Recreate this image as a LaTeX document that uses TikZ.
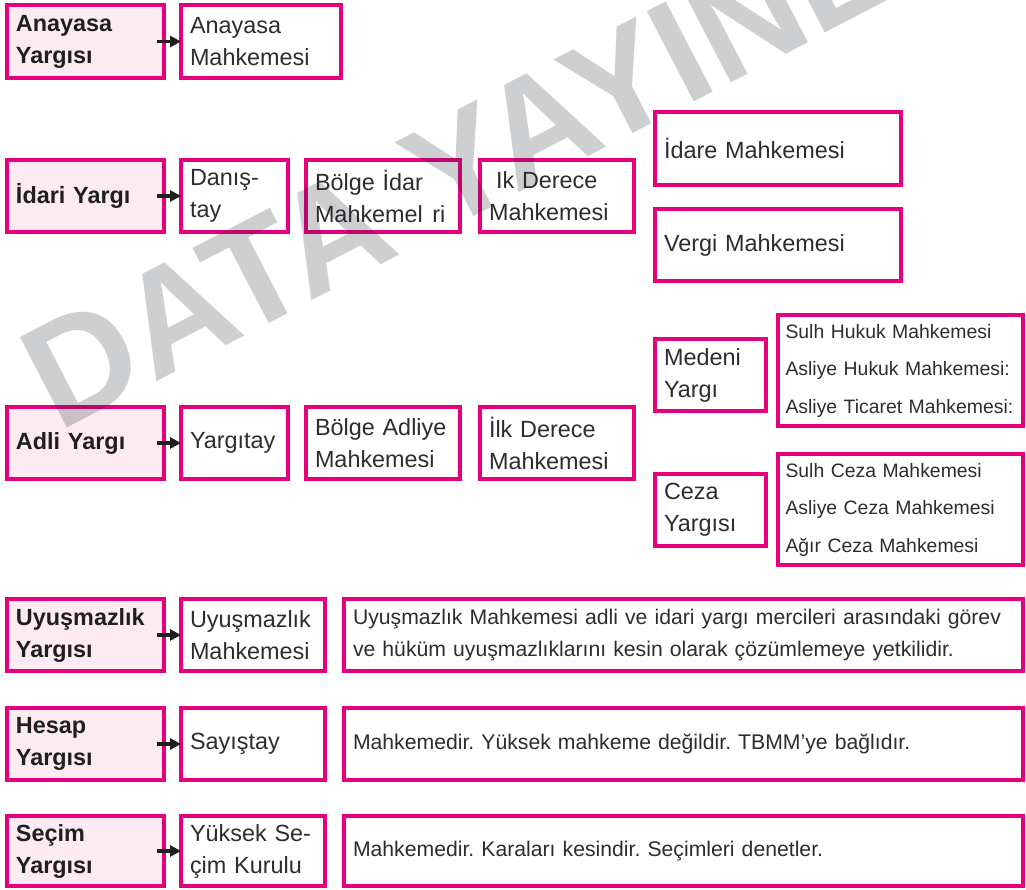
\documentclass[tikz,border=0pt]{standalone}
\usepackage{fontspec}
\setmainfont{Liberation Sans}
\usetikzlibrary{arrows.meta}
\definecolor{mag}{RGB}{230,0,126}
\definecolor{pinkfill}{RGB}{252,236,242}
\definecolor{txt}{RGB}{45,45,45}
\definecolor{wm}{RGB}{30,35,45}
\newcommand\mainf{\fontsize{11.7}{16}\selectfont}
\newcommand\smallf{\fontsize{9.7}{18.75}\selectfont}
\newcommand\descf{\fontsize{10.6}{16}\selectfont}
\begin{document}
\frenchspacing
\begin{tikzpicture}[x=0.5pt,y=-0.5pt,
  box/.style={draw=mag, line width=2pt, fill=white, rectangle, anchor=north west,
    outer sep=0pt, inner xsep=4.5pt, inner ysep=0pt, align=left, text=txt, font=\mainf},
  hd/.style={fill=pinkfill, text=black!88, font=\mainf\bfseries},
  grp/.style={font=\smallf, inner xsep=3.75pt},
  desc/.style={font=\descf},
  arr/.style={-{Triangle[length=5.5pt,width=5.5pt]}, line width=1.6pt, black!88}]
\useasboundingbox (0,0) rectangle (1026,889);
% Row 1
\node[box,hd, minimum width=78.5pt, minimum height=36.5pt, text width=69.5pt] (ay) at (7,5) {Anayasa\\Yargısı};
\node[box, minimum width=80pt, minimum height=36.5pt, text width=71pt] (am) at (181,5) {Anayasa\\Mahkemesi};
% Row 2
\node[box,hd, minimum width=78.5pt, minimum height=36pt, text width=69.5pt] (iy) at (7,160) {İdari Yargı};
\node[box, minimum width=53.5pt, minimum height=36pt, text width=44.5pt] (dn) at (181,160) {Danış-\\tay};
\node[box, minimum width=77pt, minimum height=36pt, text width=68pt] (bi) at (306,160) {Bölge İdar\\Mahkemel\hspace{0.4em}ri};
\node[box, minimum width=77pt, minimum height=36pt, text width=68pt] (id) at (480,160) {\hspace{0.3em}Ik Derece\\Mahkemesi};
\node[box, minimum width=123pt, minimum height=36.5pt, text width=114pt] (im) at (655,112) {İdare Mahkemesi};
\node[box, minimum width=123pt, minimum height=36pt, text width=114pt] (vm) at (655,209) {Vergi Mahkemesi};
% Row 3
\node[box,hd, minimum width=78.5pt, minimum height=36pt, text width=69.5pt] (ad) at (7,407) {Adli Yargı};
\node[box, minimum width=53.5pt, minimum height=36pt, text width=44.5pt] (yt) at (181,407) {Yargıtay};
\node[box, minimum width=77pt, minimum height=36pt, text width=68pt] (ba) at (306,407) {Bölge Adliye\\Mahkemesi};
\node[box, minimum width=77pt, minimum height=36pt, text width=68pt] (ilk) at (480,407) {İlk Derece\\Mahkemesi};
\node[box, minimum width=55.5pt, minimum height=36pt, text width=46.5pt] (my) at (655,339) {Medeni\\Yargı};
\node[box,grp, minimum width=122.5pt, minimum height=55.5pt, text width=115pt] (hg) at (778,315) {Sulh Hukuk Mahkemesi\\Asliye Hukuk Mahkemesi:\\Asliye Ticaret Mahkemesi:};
\node[box, minimum width=55.5pt, minimum height=36pt, text width=46.5pt] (cy) at (655,474) {Ceza\\Yargısı};
\node[box,grp, minimum width=122.5pt, minimum height=55.5pt, text width=115pt] (cg) at (778,454) {Sulh Ceza Mahkemesi\\Asliye Ceza Mahkemesi\\Ağır Ceza Mahkemesi};
% Row 4
\node[box,hd, minimum width=78.5pt, minimum height=36pt, text width=69.5pt] (uy) at (7,599) {Uyuşmazlık\\Yargısı};
\node[box, minimum width=72pt, minimum height=36pt, text width=63pt] (um) at (181,599) {Uyuşmazlık\\Mahkemesi};
\node[box,desc, minimum width=339.5pt, minimum height=36pt, text width=330.5pt] (ud) at (344,599) {\makebox[330.5pt][s]{Uyuşmazlık Mahkemesi adli ve idari yargı mercileri arasındaki görev}\\ve hüküm uyuşmazlıklarını kesin olarak çözümlemeye yetkilidir.};
% Row 5
\node[box,hd, minimum width=78.5pt, minimum height=36pt, text width=69.5pt] (hy) at (7,708) {Hesap\\Yargısı};
\node[box, minimum width=72pt, minimum height=36pt, text width=63pt] (sy) at (181,708) {Sayıştay};
\node[box,desc, minimum width=339.5pt, minimum height=36pt, text width=330.5pt] (hd) at (344,708) {Mahkemedir. Yüksek mahkeme değildir. TBMM’ye bağlıdır.};
% Row 6
\node[box,hd, minimum width=78.5pt, minimum height=35pt, text width=69.5pt] (sc) at (7,816) {Seçim\\Yargısı};
\node[box, minimum width=72pt, minimum height=35pt, text width=63pt] (ysk) at (181,816) {Yüksek Se-\\çim Kurulu};
\node[box,desc, minimum width=339.5pt, minimum height=35pt, text width=330.5pt] (sd) at (344,816) {Mahkemedir. Karaları kesindir. Seçimleri denetler.};
% arrows
\draw[arr] ([xshift=-3.5pt]ay.east) -- (am.west);
\draw[arr] ([xshift=-3.5pt]iy.east) -- (dn.west);
\draw[arr] ([xshift=-3.5pt]ad.east) -- (yt.west);
\draw[arr] ([xshift=-3.5pt]uy.east) -- (um.west);
\draw[arr] ([xshift=-3.5pt]hy.east) -- (sy.west);
\draw[arr] ([xshift=-3.5pt]sc.east) -- (ysk.west);
% watermark
\begin{scope}
\clip (0,0) rectangle (1026,889);
\node[rotate=27.5, anchor=base west, inner sep=0pt, text=wm, text opacity=0.22,
  font=\fontsize{74}{74}\selectfont\bfseries] (wmk) at (58,433) {DATA YAYINLARI};
\end{scope}
\end{tikzpicture}
\end{document}
